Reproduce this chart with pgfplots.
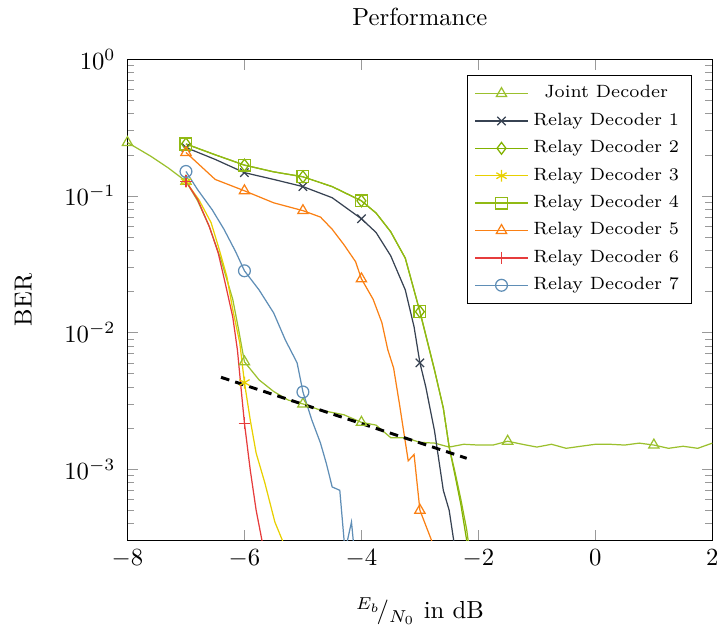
\documentclass[border=0pt]{standalone}
\usepackage{pgfplots}
\pgfplotsset{compat=1.18}

\definecolor{jointc}{RGB}{155,192,45}
\definecolor{relayA}{RGB}{55,66,82}
\definecolor{relayB}{RGB}{130,178,0}
\definecolor{relayC}{RGB}{232,208,0}
\definecolor{relayD}{RGB}{145,186,20}
\definecolor{relayE}{RGB}{250,128,20}
\definecolor{relayF}{RGB}{230,60,60}
\definecolor{relayG}{RGB}{95,142,182}

\begin{document}
\begin{tikzpicture}
\begin{axis}[
  scale only axis,
  width=237pt, height=195pt,
  ymode=log,
  xmin=-8, xmax=2, ymin=3e-4, ymax=1,
  xtick={-8,-6,...,2},
  title={Performance},
  title style={yshift=4pt},
  xlabel={$^{E_b}\!/_{N_0}$ in dB},
  xlabel style={yshift=-5.5pt},
  ylabel={BER},
  ylabel style={inner ysep=6pt, yshift=3.5pt},
  yticklabel style={xshift=-1.3pt},
  xticklabel style={inner xsep=1pt},
  tick style={gray!80},
  mark size=2.4pt,
  every axis plot/.append style={line width=0.5pt},
  legend cell align=center,
  legend style={font=\fontsize{7.2}{8.4}\selectfont, at={(0.965,0.967)}, anchor=north east,
    row sep=0.6pt},
  legend image code/.code={
    \draw[mark=none] (0cm,0cm) -- (0.75cm,0cm);
    \draw[mark indices={1}] plot coordinates {(0.375cm,0cm)};},
]

% Joint decoder
\addplot[color=jointc, mark=triangle, mark indices={1,4,10,14,17,27,37}] coordinates {
(-8,0.246) (-7.6,0.195) (-7.3,0.160) (-7,0.128) (-6.8,0.092) (-6.6,0.0595)
(-6.4,0.034) (-6.2,0.0175) (-6.1,0.0105) (-6,0.0061) (-5.75,0.0045) (-5.5,0.0037)
(-5.25,0.0032) (-5,0.0030) (-4.7,0.0027) (-4.3,0.0025) (-4,0.0022) (-3.75,0.0021)
(-3.5,0.0017) (-3.25,0.0017) (-3,0.00157) (-2.75,0.00155) (-2.5,0.00145) (-2.25,0.00152)
(-2,0.0015) (-1.75,0.0015) (-1.5,0.0016) (-1.25,0.00152) (-1,0.00145) (-0.75,0.00152)
(-0.5,0.00142) (-0.25,0.00147) (0,0.00152) (0.25,0.00152) (0.5,0.0015) (0.75,0.00155)
(1,0.0015) (1.25,0.00142) (1.5,0.00147) (1.75,0.00142) (2,0.00155)};
\addlegendentry{Joint Decoder}

% Relay decoder 1
\addplot[color=relayA, mark=x, mark indices={1,3,5,7,12}] coordinates {
(-7,0.226) (-6.5,0.185) (-6,0.148) (-5.5,0.132) (-5,0.117) (-4.5,0.097) (-4,0.068)
(-3.75,0.054) (-3.5,0.0365) (-3.25,0.0205) (-3.1,0.011) (-3,0.0060) (-2.9,0.0040)
(-2.75,0.0019) (-2.6,7e-4) (-2.5,5e-4) (-2.4,2.6e-4)};
\addlegendentry{Relay Decoder 1}

% Relay decoder 2
\addplot[color=relayB, mark=diamond, mark indices={1,3,5,7,11}] coordinates {
(-7,0.24) (-6.5,0.20) (-6,0.168) (-5.5,0.15) (-5,0.138) (-4.5,0.117) (-4,0.092)
(-3.75,0.075) (-3.5,0.0547) (-3.25,0.035) (-3,0.0142) (-2.75,0.0053) (-2.6,0.0028)
(-2.5,0.00145) (-2.4,9e-4) (-2.3,5.5e-4) (-2.2,3e-4) (-2.17,2.4e-4)};
\addlegendentry{Relay Decoder 2}

% Relay decoder 3
\addplot[color=relayC, mark=asterisk, mark indices={1,8}] coordinates {
(-7,0.127) (-6.78,0.094) (-6.57,0.0637) (-6.43,0.0404) (-6.3,0.0256) (-6.2,0.0147)
(-6.08,0.0084) (-6,0.0043) (-5.9,0.00228) (-5.8,0.00131) (-5.65,7.9e-4)
(-5.48,4.1e-4) (-5.35,3.0e-4) (-5.3,2.5e-4)};
\addlegendentry{Relay Decoder 3}

% Relay decoder 4
\addplot[color=relayD, mark=square, mark indices={1,3,5,7,11}] coordinates {
(-7,0.24) (-6.5,0.20) (-6,0.168) (-5.5,0.15) (-5,0.138) (-4.5,0.117) (-4,0.092)
(-3.75,0.075) (-3.5,0.0547) (-3.25,0.035) (-3,0.0142) (-2.75,0.0053) (-2.6,0.0028)
(-2.5,0.00145) (-2.4,9.5e-4) (-2.3,6e-4) (-2.2,3.6e-4) (-2.15,2.5e-4)};
\addlegendentry{Relay Decoder 4}

% Relay decoder 5
\addplot[color=relayE, mark=triangle, mark indices={1,3,5,10,18}] coordinates {
(-7,0.208) (-6.5,0.132) (-6,0.109) (-5.5,0.089) (-5,0.078) (-4.7,0.070) (-4.5,0.057)
(-4.3,0.044) (-4.1,0.033) (-4,0.0247) (-3.8,0.0175) (-3.65,0.0118) (-3.55,0.0075)
(-3.45,0.0055) (-3.35,0.0030) (-3.2,0.00115) (-3.1,0.00128) (-3,5.0e-4)
(-2.8,3.0e-4) (-2.7,2.0e-4)};
\addlegendentry{Relay Decoder 5}

% Relay decoder 6
\addplot[color=relayF, mark=+, mark indices={1,9}] coordinates {
(-7,0.128) (-6.8,0.094) (-6.6,0.0595) (-6.45,0.0384) (-6.33,0.0231) (-6.2,0.013)
(-6.12,0.00745) (-6.05,0.0036) (-6,0.00217) (-5.9,9.8e-4) (-5.8,5.0e-4)
(-5.7,3.0e-4) (-5.65,2.3e-4)};
\addlegendentry{Relay Decoder 6}

% Relay decoder 7
\addplot[color=relayG, mark=o, mark indices={1,6,11}] coordinates {
(-7,0.151) (-6.8,0.111) (-6.55,0.079) (-6.35,0.057) (-6.15,0.039) (-6,0.0283)
(-5.75,0.0205) (-5.5,0.0139) (-5.3,0.0088) (-5.1,0.0060) (-5,0.00367) (-4.85,0.0023)
(-4.7,0.00155) (-4.6,0.0011) (-4.5,7.4e-4) (-4.37,7.0e-4) (-4.28,2.5e-4)
(-4.17,4.1e-4) (-4.1,2.0e-4)};
\addlegendentry{Relay Decoder 7}

% error-floor trend
\addplot[black, line width=1.2pt, dash pattern=on 3.5pt off 2.5pt, forget plot]
  coordinates {(-6.4,0.0047) (-2.2,0.0012)};

\end{axis}
\end{tikzpicture}
\end{document}
